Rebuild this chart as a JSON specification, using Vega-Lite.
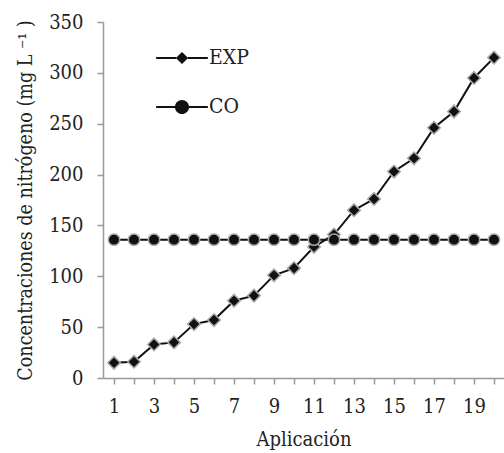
{
  "$schema": "https://vega.github.io/schema/vega-lite/v6.json",
  "width": 401,
  "height": 356,
  "autosize": {"type": "none"},
  "padding": {"left": 103, "top": 22, "right": 0, "bottom": 75},
  "background": "white",
  "config": {
    "view": {"stroke": null},
    "font": "DejaVu Serif Condensed",
    "axis": {"grid": false, "labelFont": "DejaVu Serif Condensed", "titleFont": "DejaVu Serif Condensed", "labelColor": "#222", "titleColor": "#222", "titleFontWeight": "normal", "domainColor": "#999", "tickColor": "#999", "domainWidth": 1.5, "tickWidth": 1.5}
  },
  "data": {
    "values": [
      {"a": 1, "s": "EXP", "v": 15}, {"a": 2, "s": "EXP", "v": 16}, {"a": 3, "s": "EXP", "v": 33},
      {"a": 4, "s": "EXP", "v": 35}, {"a": 5, "s": "EXP", "v": 53}, {"a": 6, "s": "EXP", "v": 57},
      {"a": 7, "s": "EXP", "v": 76}, {"a": 8, "s": "EXP", "v": 81}, {"a": 9, "s": "EXP", "v": 101},
      {"a": 10, "s": "EXP", "v": 108}, {"a": 11, "s": "EXP", "v": 129}, {"a": 12, "s": "EXP", "v": 141},
      {"a": 13, "s": "EXP", "v": 165}, {"a": 14, "s": "EXP", "v": 176}, {"a": 15, "s": "EXP", "v": 203},
      {"a": 16, "s": "EXP", "v": 216}, {"a": 17, "s": "EXP", "v": 246}, {"a": 18, "s": "EXP", "v": 262},
      {"a": 19, "s": "EXP", "v": 295}, {"a": 20, "s": "EXP", "v": 315},
      {"a": 1, "s": "CO", "v": 136}, {"a": 2, "s": "CO", "v": 136}, {"a": 3, "s": "CO", "v": 136},
      {"a": 4, "s": "CO", "v": 136}, {"a": 5, "s": "CO", "v": 136}, {"a": 6, "s": "CO", "v": 136},
      {"a": 7, "s": "CO", "v": 136}, {"a": 8, "s": "CO", "v": 136}, {"a": 9, "s": "CO", "v": 136},
      {"a": 10, "s": "CO", "v": 136}, {"a": 11, "s": "CO", "v": 136}, {"a": 12, "s": "CO", "v": 136},
      {"a": 13, "s": "CO", "v": 136}, {"a": 14, "s": "CO", "v": 136}, {"a": 15, "s": "CO", "v": 136},
      {"a": 16, "s": "CO", "v": 136}, {"a": 17, "s": "CO", "v": 136}, {"a": 18, "s": "CO", "v": 136},
      {"a": 19, "s": "CO", "v": 136}, {"a": 20, "s": "CO", "v": 136}
    ]
  },
  "encoding": {
    "x": {
      "field": "a", "type": "quantitative",
      "scale": {"domain": [0.45, 20.5], "nice": false, "zero": false},
      "axis": {
        "title": "Aplicación", "titleFontSize": 20, "titlePadding": 13,
        "values": [1,2,3,4,5,6,7,8,9,10,11,12,13,14,15,16,17,18,19,20],
        "labelExpr": "datum.value % 2 == 1 ? datum.label : ''",
        "labelOverlap": false, "labelFontSize": 20, "tickSize": 6, "labelPadding": 12
      }
    },
    "y": {
      "field": "v", "type": "quantitative",
      "scale": {"domain": [0, 350], "nice": false},
      "axis": {
        "title": "Concentraciones de nitrógeno (mg L ⁻¹ )", "titleFontSize": 19.5, "titlePadding": 13,
        "values": [0, 50, 100, 150, 200, 250, 300, 350],
        "labelFontSize": 20, "tickSize": 6, "labelPadding": 14
      }
    }
  },
  "layer": [
    {"transform": [{"filter": "datum.s == 'EXP'"}], "mark": {"type": "line", "color": "#111", "strokeWidth": 2}},
    {"transform": [{"filter": "datum.s == 'EXP'"}], "mark": {"type": "point", "shape": "diamond", "filled": true, "fill": "#111", "stroke": "#aaa", "strokeWidth": 1.5, "size": 160, "opacity": 1}},
    {"transform": [{"filter": "datum.s == 'CO'"}], "mark": {"type": "line", "color": "#111", "strokeWidth": 2}},
    {"transform": [{"filter": "datum.s == 'CO'"}], "mark": {"type": "point", "shape": "circle", "filled": true, "fill": "#111", "stroke": "#aaa", "strokeWidth": 1.5, "size": 130, "opacity": 1}},
    {
      "transform": [{"filter": "false"}],
      "mark": {"type": "point", "filled": true, "fill": "#111", "stroke": "#111", "strokeWidth": 1, "opacity": 1},
      "encoding": {
        "shape": {
          "field": "s", "type": "nominal",
          "scale": {"domain": ["EXP", "CO"], "range": [
            "M-1.1,-0.045L-0.25,-0.045L-0.25,0.045L-1.1,0.045Z M0.25,-0.045L1.1,-0.045L1.1,0.045L0.25,0.045Z M0,-0.26L0.26,0L0,0.26L-0.26,0Z",
            "M-1.1,-0.045L-0.29,-0.045L-0.29,0.045L-1.1,0.045Z M0.29,-0.045L1.1,-0.045L1.1,0.045L0.29,0.045Z M0.3,0A0.3,0.3 0 1,1 -0.3,0A0.3,0.3 0 1,1 0.3,0Z"
          ]},
          "legend": {
            "title": null, "orient": "none", "legendX": 55, "legendY": 12,
            "symbolSize": 2209, "symbolFillColor": "#111", "symbolStrokeColor": "#111", "symbolStrokeWidth": 1,
            "symbolOpacity": 1, "labelFontSize": 21, "labelColor": "#222", "labelFont": "DejaVu Serif Condensed",
            "labelOffset": 3, "rowPadding": 15, "padding": 0,
            "encode": {"symbols": {"update": {"fill": {"value": "#111"}, "stroke": {"value": "#111"}, "strokeWidth": {"value": 1}, "opacity": {"value": 1}}}}
          }
        }
      }
    }
  ]
}
